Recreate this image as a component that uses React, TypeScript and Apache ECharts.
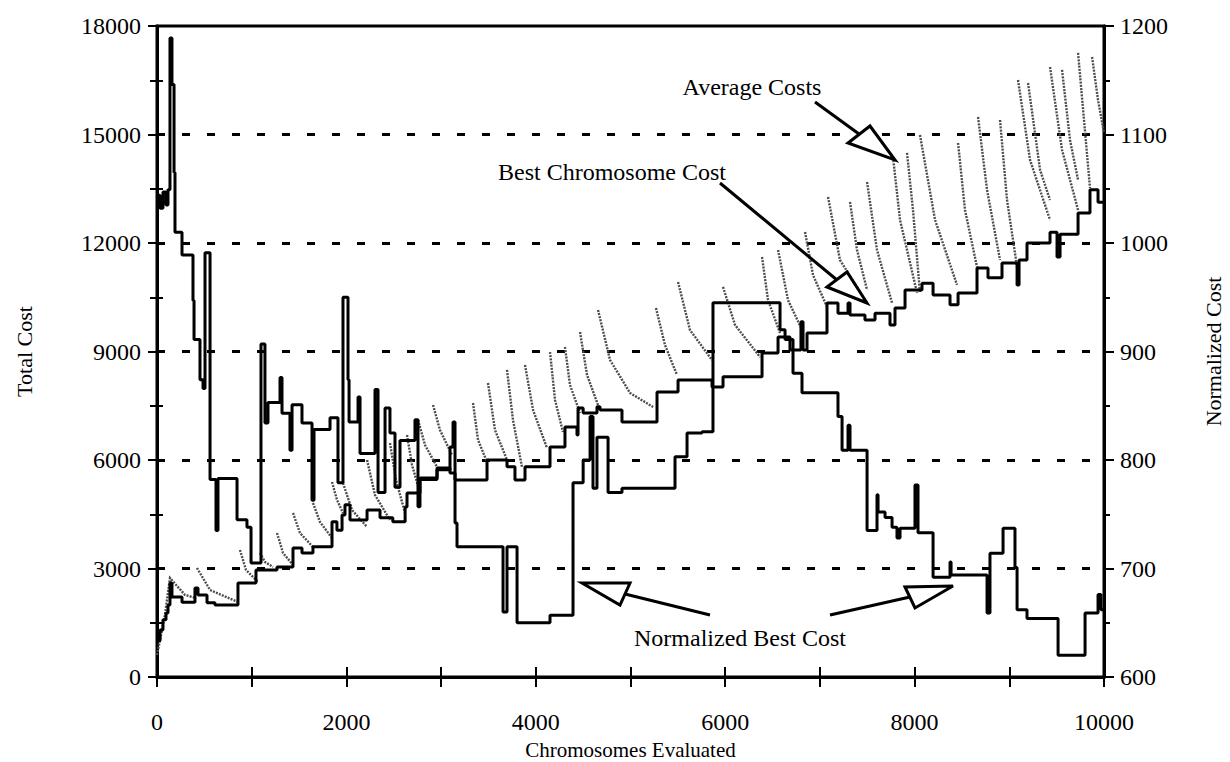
import React, { useEffect, useRef } from 'react';
import * as echarts from 'echarts';

const FONT = '"Liberation Serif", "Times New Roman", Times, serif';

// x-axis ticks / labels
const xMin = 0;
const xMax = 10000;
const xTickStep = 1000;
const xLabelStep = 2000;
// left axis (Total Cost)
const leftMin = 0;
const leftMax = 18000;
const leftStep = 3000;
// right axis (Normalized Cost)
const rightMin = 600;
const rightMax = 1200;
const rightStep = 100;

// Best Chromosome Cost (left axis), step line: [chromosomes, cost]
const bestCost: number[][] = [
  [0, 1000], [32, 1300], [63, 1580], [95, 1770], [116, 1990], [137, 2600], [158, 2210],
  [264, 2070], [401, 2460], [433, 2270], [528, 2050], [612, 1990], [855, 2600], [1045, 2960],
  [1267, 3040], [1436, 3570], [1531, 3430], [1647, 3600], [1848, 4290], [1900, 4060], [1954, 4480],
  [1985, 4760], [2038, 4340], [2218, 4620], [2355, 4400], [2490, 4290], [2620, 4700], [2640, 5090],
  [2777, 5500], [2957, 5780], [3094, 5640], [3147, 5450], [3485, 6000], [3696, 5810], [3780, 5450],
  [3886, 5810], [4150, 6360], [4308, 6910], [4435, 6690], [4446, 7440], [4500, 7300], [4646, 7470],
  [4678, 7380], [4910, 7050], [5280, 7880], [5502, 8210], [5861, 8020], [5977, 8300], [6389, 8960],
  [6558, 9400], [6684, 9040], [6800, 9820], [6822, 9040], [6864, 9510], [7075, 10340], [7191, 10060],
  [7297, 10340], [7318, 10010], [7476, 9870], [7582, 10060], [7740, 9730], [7793, 10200], [7899, 10700],
  [8078, 10890], [8195, 10560], [8374, 10290], [8459, 10620], [8659, 11310], [8775, 11040], [8923, 11450],
  [9082, 10840], [9103, 11530], [9187, 12000], [9430, 12300], [9504, 11610], [9536, 12240], [9726, 12830],
  [9852, 13470], [9937, 13130], [10000, 13130],
];

// Normalized Best Cost (right axis), step line: [chromosomes, normalized cost]
const normalizedBest: number[][] = [
  [0, 1044], [32, 1032], [63, 1047], [95, 1035], [116, 1049], [137, 1189], [158, 1146], [180, 1065],
  [190, 1010], [264, 989], [380, 947], [391, 911], [454, 874], [486, 866], [507, 991], [560, 782],
  [623, 735], [644, 783], [845, 745], [950, 738], [993, 705], [1098, 907], [1140, 834], [1172, 853],
  [1299, 876], [1320, 843], [1404, 809], [1426, 851], [1531, 834], [1637, 763], [1658, 828], [1827, 839],
  [1911, 779], [1964, 950], [2017, 874], [2028, 835], [2123, 858], [2144, 806], [2302, 865], [2334, 770],
  [2408, 848], [2460, 825], [2513, 775], [2566, 818], [2724, 837], [2756, 757], [2777, 782], [2957, 791],
  [3094, 812], [3126, 835], [3147, 742], [3168, 720], [3654, 660], [3696, 720], [3802, 650], [4150, 657],
  [4393, 779], [4500, 800], [4573, 840], [4604, 774], [4646, 821], [4763, 770], [4910, 774], [5470, 803],
  [5597, 825], [5755, 826], [5871, 945], [6579, 920], [6632, 911], [6716, 880], [6811, 862], [7191, 840],
  [7234, 809], [7297, 832], [7318, 809], [7498, 735], [7603, 768], [7614, 752], [7688, 747], [7762, 738],
  [7814, 728], [7846, 737], [8004, 777], [8036, 733], [8195, 692], [8374, 706], [8385, 694], [8765, 659],
  [8796, 714], [8934, 737], [9060, 701], [9082, 662], [9187, 654], [9515, 620], [9800, 659], [9937, 676],
  [9968, 662], [10000, 662],
];

// Average Costs (left axis): each tooth of the sawtooth, [chromosomes, cost]
const averageTeeth: number[][][] = [
  [[0, 608], [84, 1714], [137, 2737], [296, 2267], [412, 2184]],
  [[422, 3014], [560, 2406], [855, 2074]],
  [[876, 3512], [940, 2959], [1067, 2627]],
  [[1088, 3429], [1140, 3180], [1225, 3042]],
  [[1267, 3982], [1331, 3429], [1436, 3097]],
  [[1436, 4535], [1510, 3982], [1647, 3595]],
  [[1647, 4811], [1721, 4286], [1848, 3843]],
  [[1848, 5392], [1901, 4894], [1964, 4535]],
  [[1964, 5364], [2059, 4618], [2218, 4148]],
  [[2218, 6000], [2302, 5032], [2460, 4341]],
  [[2460, 6470], [2524, 5447], [2619, 4535]],
  [[2640, 6691], [2693, 5862], [2777, 5088]],
  [[2756, 7106], [2830, 6415], [2957, 5807]],
  [[2915, 7521], [2988, 6830], [3115, 6138]],
  [[3337, 7576], [3390, 6553], [3485, 5945]],
  [[3495, 8129], [3569, 6830], [3696, 6000]],
  [[3696, 8489], [3759, 7106], [3854, 5807]],
  [[3886, 8627], [3971, 7383], [4118, 6332]],
  [[4150, 8986], [4203, 7659], [4287, 6774]],
  [[4308, 9125], [4361, 8074], [4467, 7300]],
  [[4467, 9539], [4541, 8350], [4657, 7521]],
  [[4657, 10148], [4784, 8765], [4995, 7853], [5238, 7466]],
  [[5269, 10203], [5364, 9180], [5491, 8350]],
  [[5502, 10922], [5628, 9595], [5861, 8765]],
  [[5977, 10784], [6104, 9733], [6368, 8848]],
  [[6389, 11613], [6452, 10424], [6579, 9512]],
  [[6558, 11807], [6663, 10424], [6822, 9539]],
  [[6843, 12304], [6927, 11115], [7075, 10231]],
  [[7086, 13272], [7212, 11530], [7498, 10341]],
  [[7318, 13134], [7392, 11807], [7498, 10701]],
  [[7498, 13687], [7603, 11807], [7762, 10341]],
  [[7772, 14378], [7846, 12636], [8026, 10618]],
  [[7920, 14489], [7983, 12913], [8057, 10618]],
  [[8057, 14986], [8216, 12636], [8448, 10839]],
  [[8459, 14765], [8532, 12913], [8659, 11337]],
  [[8670, 15484], [8765, 13466], [8902, 11530]],
  [[8902, 15401], [8976, 13189], [9082, 11337]],
  [[9092, 16507], [9219, 14295], [9430, 12636]],
  [[9198, 16424], [9325, 14019], [9430, 13189]],
  [[9430, 16867], [9557, 14572], [9726, 12913]],
  [[9557, 16784], [9641, 14848], [9726, 13742]],
  [[9726, 17254], [9789, 15401], [9852, 13521]],
  [[9874, 17143], [9937, 15954], [10000, 15042]],
];

const annotations = {
  average: 'Average Costs',
  best: 'Best Chromosome Cost',
  normalized: 'Normalized Best Cost',
};

export default function App() {
  const ref = useRef<HTMLDivElement>(null);

  useEffect(() => {
    if (!ref.current) return;
    const chart = echarts.init(ref.current, null, { renderer: 'svg' });

    const black = '#000';
    const axisLine = { show: true, onZero: false, lineStyle: { color: black, width: 3 } };
    const tickLine = { color: black, width: 2 };
    const labelStyle = { fontFamily: FONT, fontSize: 24, color: black };
    const nameStyle = { fontFamily: FONT, fontSize: 22, color: black };
    const plain = (v: number) => String(v);

    const arrowStroke = { stroke: black, lineWidth: 3 };
    const headStyle = { fill: '#fff', stroke: black, lineWidth: 3 };
    const textStyle = (text: string) => ({
      text, fill: black, fontFamily: FONT, fontSize: 24, align: 'center', verticalAlign: 'middle',
    });

    const option: any = {
      animation: false,
      backgroundColor: '#fff',
      grid: {
        left: 157, right: 126, top: 26, bottom: 85,
        outerBoundsMode: 'none', containLabel: false,
        show: true, borderColor: black, borderWidth: 3, backgroundColor: 'transparent',
      },
      xAxis: [
        {
          type: 'value', min: xMin, max: xMax, interval: xTickStep, position: 'bottom',
          axisLine,
          axisTick: { show: true, inside: false, length: 10, lineStyle: tickLine },
          axisLabel: {
            ...labelStyle, margin: 33,
            formatter: (v: number) => (v % xLabelStep === 0 ? String(v) : ''),
          },
          splitLine: { show: false },
          name: 'Chromosomes Evaluated', nameLocation: 'middle', nameGap: 50,
          nameTextStyle: { ...nameStyle, fontSize: 21, lineHeight: 22 },
        },
        {
          type: 'value', min: xMin, max: xMax, interval: xTickStep, position: 'bottom',
          axisLine: { show: false },
          axisTick: { show: true, inside: true, length: 10, lineStyle: tickLine },
          axisLabel: { show: false }, splitLine: { show: false },
        },
      ],
      yAxis: [
        {
          type: 'value', min: leftMin, max: leftMax, interval: leftStep, position: 'left',
          axisLine,
          axisTick: { show: true, inside: false, length: 9, lineStyle: tickLine },
          minorTick: { show: true, splitNumber: 2, length: 7, lineStyle: tickLine },
          axisLabel: { ...labelStyle, margin: 16, formatter: plain },
          splitLine: {
            show: true, showMinLine: false, showMaxLine: false,
            lineStyle: { color: black, width: 3, type: [8, 17] },
          },
          name: 'Total Cost', nameLocation: 'middle', nameGap: 122, nameRotate: 90,
          nameTextStyle: nameStyle,
        },
        {
          type: 'value', min: rightMin, max: rightMax, interval: rightStep, position: 'right',
          axisLine,
          axisTick: { show: true, inside: false, length: 10, lineStyle: tickLine },
          minorTick: { show: true, splitNumber: 2, length: 6, lineStyle: tickLine },
          axisLabel: { ...labelStyle, margin: 16, formatter: plain },
          splitLine: { show: false },
          name: 'Normalized Cost', nameLocation: 'middle', nameGap: 98, nameRotate: 90,
          nameTextStyle: nameStyle,
        },
        {
          type: 'value', min: leftMin, max: leftMax, interval: leftStep, position: 'left',
          axisLine: { show: false },
          axisTick: { show: true, inside: true, length: 6, lineStyle: tickLine },
          minorTick: { show: true, splitNumber: 2, length: 6, lineStyle: tickLine },
          axisLabel: { show: false }, splitLine: { show: false },
        },
        {
          type: 'value', min: rightMin, max: rightMax, interval: rightStep, position: 'right',
          axisLine: { show: false },
          axisTick: { show: true, inside: true, length: 8, lineStyle: tickLine },
          minorTick: { show: true, splitNumber: 2, length: 5, lineStyle: tickLine },
          axisLabel: { show: false }, splitLine: { show: false },
        },
      ],
      series: [
        {
          name: 'Average Costs', type: 'lines', coordinateSystem: 'cartesian2d',
          xAxisIndex: 0, yAxisIndex: 0, polyline: true, silent: true, z: 2,
          lineStyle: { color: '#4d4d4d', width: 2.4, type: [2, 1.2], opacity: 1 },
          data: averageTeeth.map((t) => ({ coords: t })),
        },
        {
          name: 'Best Chromosome Cost', type: 'line', step: 'end', xAxisIndex: 0, yAxisIndex: 0,
          showSymbol: false, symbol: 'none', z: 3,
          lineStyle: { color: black, width: 3 },
          data: bestCost,
        },
        {
          name: 'Normalized Best Cost', type: 'line', step: 'end', xAxisIndex: 0, yAxisIndex: 1,
          showSymbol: false, symbol: 'none', z: 3,
          lineStyle: { color: black, width: 3 },
          data: normalizedBest,
        },
      ],
      graphic: [
        // Average Costs
        { type: 'line', z: 100, shape: { x1: 815, y1: 102, x2: 859, y2: 134 }, style: arrowStroke },
        { type: 'polygon', z: 100, shape: { points: [[848, 143], [870, 126], [895, 160]] }, style: headStyle },
        { type: 'text', z: 100, x: 752, y: 87, style: textStyle(annotations.average) },
        // Best Chromosome Cost
        { type: 'line', z: 100, shape: { x1: 720, y1: 183, x2: 837, y2: 280 }, style: arrowStroke },
        { type: 'polygon', z: 100, shape: { points: [[827, 287], [847, 272], [867, 303]] }, style: headStyle },
        { type: 'text', z: 100, x: 612, y: 172, style: textStyle(annotations.best) },
        // Normalized Best Cost
        { type: 'line', z: 100, shape: { x1: 710, y1: 615, x2: 625, y2: 594 }, style: arrowStroke },
        { type: 'polygon', z: 100, shape: { points: [[582, 583], [630, 583], [620, 605]] }, style: headStyle },
        { type: 'line', z: 100, shape: { x1: 830, y1: 615, x2: 910, y2: 597 }, style: arrowStroke },
        { type: 'polygon', z: 100, shape: { points: [[905, 587], [915, 608], [953, 586]] }, style: headStyle },
        { type: 'text', z: 100, x: 740, y: 638, style: textStyle(annotations.normalized) },
      ],
    };

    chart.setOption(option);
    return () => chart.dispose();
  }, []);

  return (
    <div
      ref={ref}
      style={{ position: 'fixed', left: 0, top: 0, width: 1230, height: 762, background: '#fff' }}
    />
  );
}
